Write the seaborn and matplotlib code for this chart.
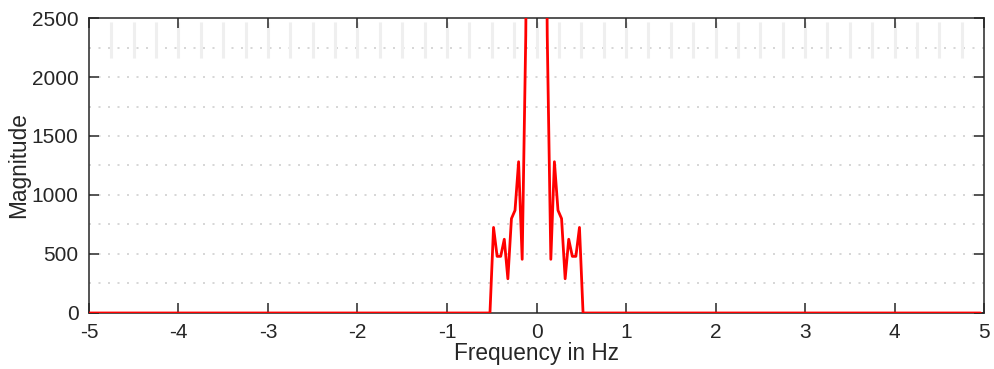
import numpy as np
import pandas as pd
import matplotlib
matplotlib.use("Agg")
import matplotlib.pyplot as plt
import seaborn as sns

# Frequency bins (Hz) and spectrum magnitude
freq = [-5.0, -0.52, -0.48, -0.44, -0.40, -0.36, -0.32, -0.28, -0.24,
        -0.20, -0.16, -0.12, -0.08, -0.04, 0.0, 0.04, 0.08, 0.12,
        0.16, 0.20, 0.24, 0.28, 0.32, 0.36, 0.40, 0.44, 0.48,
        0.52, 4.96]
magnitude = [0, 0, 725, 480, 480, 625, 290, 800, 870,
             1282, 455, 2350, 6000, 12000, 15000, 12000, 6000, 2350,
             455, 1282, 870, 800, 290, 625, 480, 480, 725,
             0, 0]

xticks = [-5, -4, -3, -2, -1, 0, 1, 2, 3, 4, 5]
yticks = [0, 500, 1000, 1500, 2000, 2500]

df = pd.DataFrame({"Frequency in Hz": freq, "Magnitude": magnitude})

sns.set_style("ticks")
plt.rcParams['font.family'] = ['Liberation Sans', 'DejaVu Sans']

fig = plt.figure(figsize=(9.95, 3.69), dpi=100)
ax = fig.add_axes([0.0894, 0.1518, 0.8996, 0.7994])

# dotted horizontal grid every 250
for yv in np.arange(250, 2500, 250):
    ax.axhline(yv, color="#cfcfcf", lw=1.2, ls=(0, (1.2, 4.5)), zorder=0)
# faint vertical streaks near the top
ax.vlines(np.arange(-4.75, 5.0, 0.25), 2160, 2470, color="#efefef", lw=2.2, zorder=0)

sns.lineplot(data=df, x="Frequency in Hz", y="Magnitude", color="#ff0000",
             lw=2.0, ax=ax, zorder=3, clip_on=True)

ax.set_xlim(-5, 5)
ax.set_ylim(0, 2500)
ax.set_xticks(xticks)
ax.set_yticks(yticks)
ax.set_xticklabels([str(t) for t in xticks])
ax.set_yticklabels([str(t) for t in yticks])
ax.tick_params(direction="in", length=7, width=1.1, colors="#262626",
               labelsize=15, top=True, right=True, labelcolor="#262626")
ax.tick_params(axis="x", pad=7)
ax.tick_params(axis="y", pad=7.5)
for s in ax.spines.values():
    s.set_visible(True)
    s.set_color("#262626")
    s.set_linewidth(1.1)
ax.set_xlabel("Frequency in Hz", fontsize=16.3, color="#262626", labelpad=0)
ax.set_ylabel("Magnitude", fontsize=16.3, color="#262626", labelpad=1)

fig.savefig("out.png", dpi=100)
